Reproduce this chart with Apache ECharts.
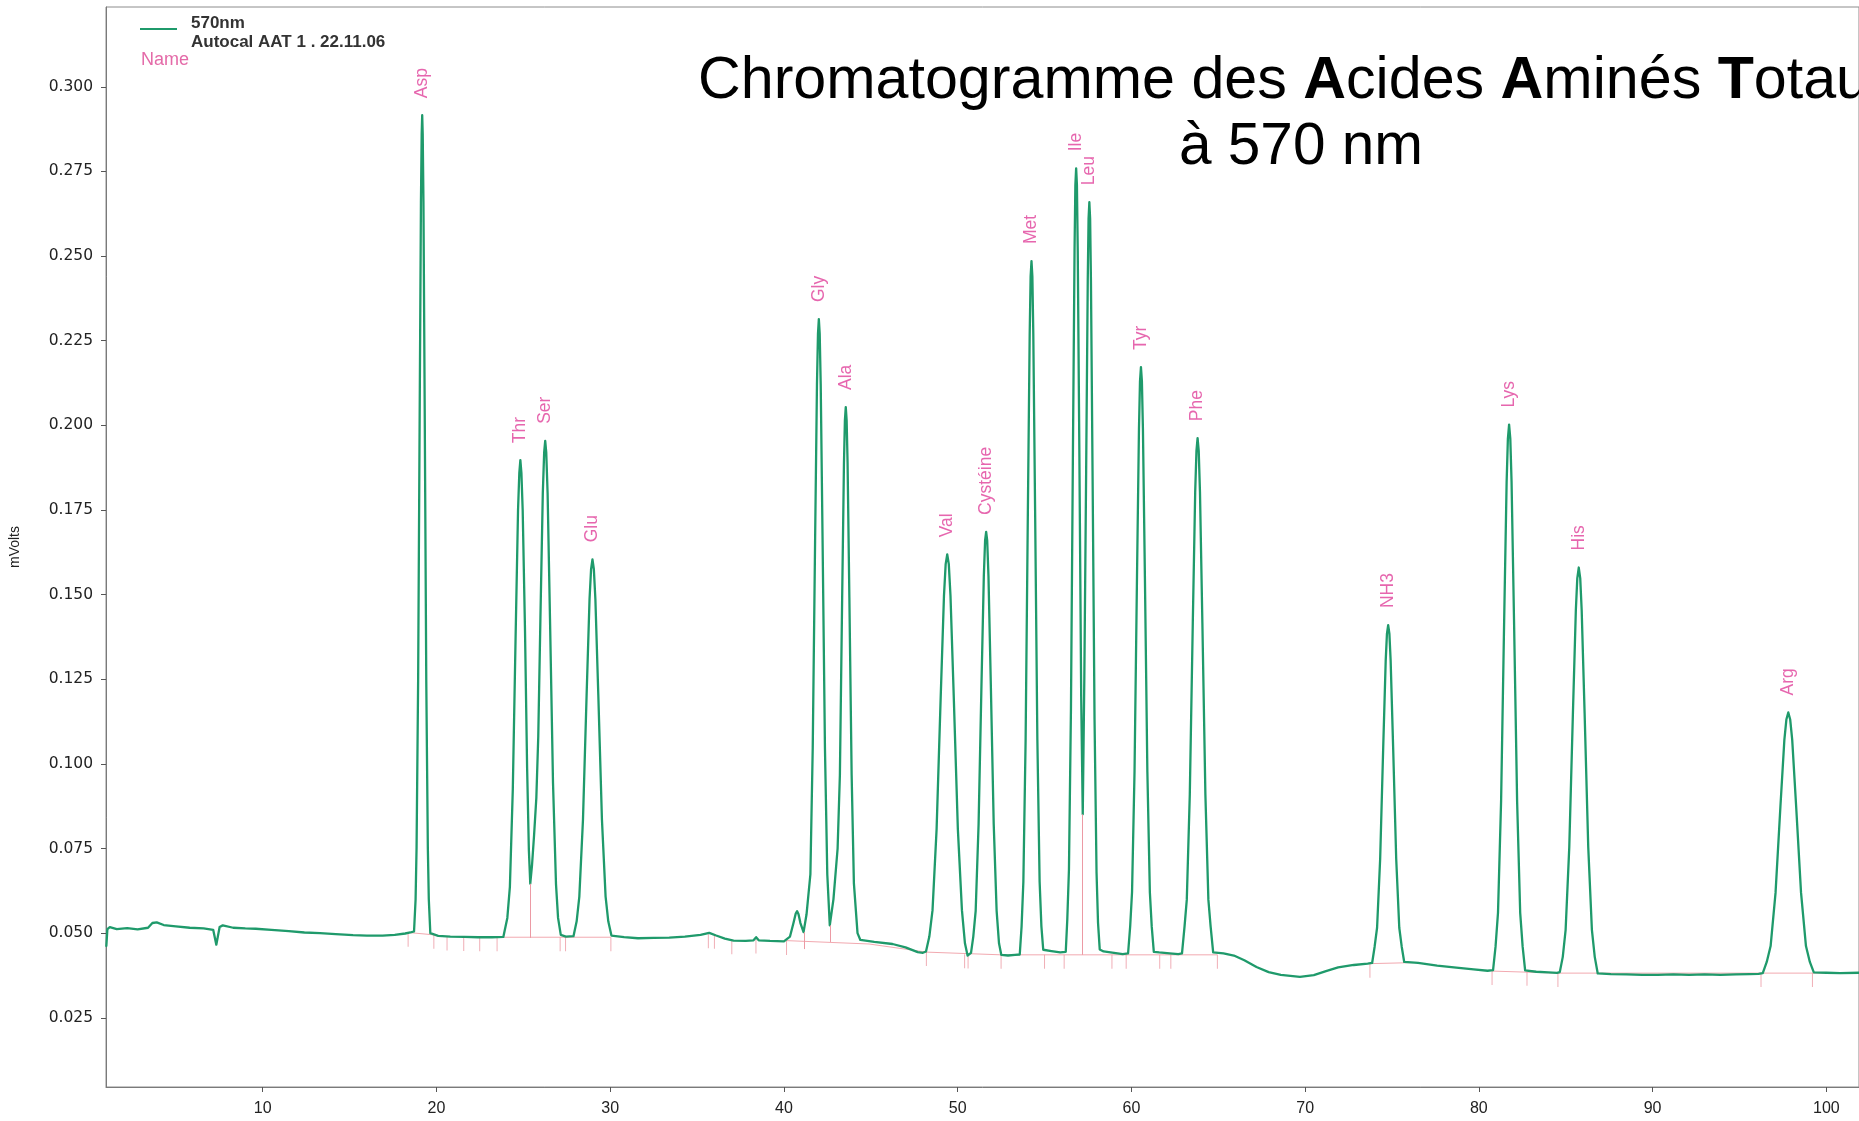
<!DOCTYPE html>
<html>
<head>
<meta charset="utf-8">
<script src="https://cdn.jsdelivr.net/npm/echarts@6/dist/echarts.min.js"></script>
<style>
html,body{margin:0;padding:0;background:#fff;}
#chart{width:1859px;height:1121px;}
</style>
</head>
<body>
<div id="chart"></div>
<script>
// ---- Data (time in min, signal in mVolts) ----
const tracePoints = [
  [1.00,0.0462],[1.06,0.0512],[1.2,0.0518],[1.6,0.0512],[2.2,0.0515],[2.8,0.0511],[3.4,0.0516],[3.65,0.0530],[3.9,0.0532],[4.3,0.0524],
  [5.0,0.0520],[5.8,0.0516],[6.6,0.0514],[7.15,0.0510],[7.33,0.0466],[7.52,0.0518],[7.7,0.0523],[8.3,0.0516],[9.0,0.0514],[9.6,0.0513],
  [10.5,0.0510],[11.5,0.0506],[12.4,0.0502],[13.3,0.0500],[14.2,0.0497],[15.2,0.0494],[16.0,0.0493],[16.9,0.0493],[17.6,0.0495],[18.2,0.0499],[18.5,0.0502],
  // Asp
  [18.71,0.0505],[18.80,0.0600],[18.856,0.0753],[18.946,0.1247],[19.036,0.2049],[19.108,0.2662],[19.15,0.2860],[19.18,0.2916],[19.21,0.2860],[19.252,0.2662],[19.324,0.2049],[19.414,0.1247],[19.504,0.0753],[19.56,0.0600],[19.648,0.0500],
  [20.1,0.0492],[20.8,0.0490],[21.6,0.0489],[22.4,0.0488],[23.2,0.0488],[23.85,0.0489],
  // Thr
  [24.08,0.0545],[24.227,0.0637],[24.395,0.0925],[24.562,0.1392],[24.696,0.1749],[24.77,0.1860],[24.83,0.1897],[24.89,0.1860],[24.964,0.1749],[25.098,0.1392],[25.22,0.0985],[25.32,0.0745],[25.40,0.0646],
  // Ser
  [25.50,0.0700],[25.62,0.0790],[25.75,0.0900],[25.86,0.1080],[25.984,0.1429],[26.122,0.1800],[26.20,0.1920],[26.26,0.1954],[26.32,0.1920],[26.398,0.1800],[26.536,0.1429],[26.709,0.0944],[26.881,0.0645],[27.00,0.0545],[27.157,0.0495],[27.45,0.0490],
  // Glu
  [27.888,0.0491],[28.07,0.0535],[28.224,0.0608],[28.434,0.0835],[28.644,0.1205],[28.812,0.1487],[28.90,0.1575],[28.98,0.1604],[29.06,0.1575],[29.148,0.1487],[29.316,0.1205],[29.526,0.0835],[29.736,0.0608],[29.89,0.0535],[30.072,0.0493],
  [30.8,0.0488],[31.6,0.0485],[32.5,0.0486],[33.4,0.0487],[34.3,0.0490],[35.2,0.0495],[35.7,0.0501],[36.1,0.0493],[36.6,0.0484],[37.1,0.0478],[37.8,0.0477],[38.25,0.0479],[38.4,0.0488],[38.55,0.0479],[39.2,0.0477],[40.0,0.0476],
  // small unnamed peak
  [40.35,0.0490],[40.55,0.0530],[40.68,0.0558],[40.76,0.0565],[40.84,0.0556],[40.95,0.0530],[41.13,0.0503],
  // Gly
  [41.30,0.0555],[41.524,0.0674],[41.659,0.1049],[41.794,0.1657],[41.902,0.2121],[41.96,0.2270],[42.01,0.2314],[42.06,0.2270],[42.118,0.2121],[42.226,0.1657],[42.361,0.1049],[42.496,0.0674],[42.64,0.0523],
  // Ala
  [42.85,0.0600],[43.09,0.0750],[43.222,0.0968],[43.352,0.1490],[43.456,0.1889],[43.51,0.2015],[43.56,0.2054],[43.61,0.2015],[43.664,0.1889],[43.768,0.1490],[43.898,0.0968],[44.028,0.0647],[44.236,0.0500],[44.40,0.0480],
  [45.2,0.0474],[46.25,0.0468],[47.0,0.0458],[47.7,0.0444],[48.0,0.0442],
  // Val
  [48.178,0.0446],[48.37,0.0490],[48.554,0.0568],[48.789,0.0808],[49.024,0.1198],[49.212,0.1496],[49.31,0.1590],[49.40,0.1619],[49.49,0.1590],[49.588,0.1496],[49.776,0.1198],[50.011,0.0808],[50.246,0.0568],[50.42,0.0470],[50.57,0.0434],
  // Cysteine
  [50.769,0.0442],[50.90,0.0490],[51.037,0.0566],[51.205,0.0822],[51.372,0.1237],[51.506,0.1554],[51.58,0.1660],[51.64,0.1685],[51.70,0.1660],[51.774,0.1554],[51.908,0.1237],[52.076,0.0822],[52.243,0.0566],[52.38,0.0470],[52.511,0.0436],
  [52.9,0.0434],[53.3,0.0436],
  // Met
  [53.574,0.0437],[53.68,0.0520],[53.782,0.0652],[53.912,0.1071],[54.042,0.1750],[54.146,0.2270],[54.20,0.2440],[54.25,0.2485],[54.30,0.2440],[54.354,0.2270],[54.458,0.1750],[54.588,0.1071],[54.718,0.0652],[54.82,0.0520],[54.926,0.0451],
  [55.4,0.0447],[55.9,0.0443],
  // Ile
  [56.222,0.0445],[56.31,0.0540],[56.406,0.0688],[56.521,0.1161],[56.636,0.1929],[56.728,0.2516],[56.775,0.2710],[56.82,0.2759],[56.865,0.2710],[56.912,0.2516],[57.004,0.1929],[57.11,0.1200],[57.20,0.0851],
  // Leu
  [57.29,0.1250],[57.396,0.1866],[57.488,0.2427],[57.535,0.2610],[57.58,0.2659],[57.625,0.2610],[57.672,0.2427],[57.764,0.1866],[57.879,0.1131],[57.994,0.0679],[58.08,0.0530],[58.178,0.0452],
  [58.4,0.0446],[59.0,0.0442],[59.5,0.0438],
  // Tyr
  [59.809,0.0440],[59.93,0.0520],[60.037,0.0621],[60.18,0.0976],[60.322,0.1551],[60.436,0.1990],[60.495,0.2130],[60.55,0.2172],[60.605,0.2130],[60.664,0.1990],[60.778,0.1551],[60.92,0.0976],[61.063,0.0621],[61.17,0.0520],[61.291,0.0445],
  [61.6,0.0443],[62.2,0.0440],[62.7,0.0438],
  // Phe
  [62.913,0.0440],[63.06,0.0520],[63.189,0.0599],[63.362,0.0910],[63.534,0.1416],[63.672,0.1802],[63.745,0.1925],[63.81,0.1962],[63.875,0.1925],[63.948,0.1802],[64.086,0.1416],[64.259,0.0910],[64.431,0.0599],[64.56,0.0520],[64.707,0.0443],
  [65.3,0.0440],[65.9,0.0434],[66.5,0.0420],[67.2,0.0400],[67.9,0.0385],[68.6,0.0377],[69.7,0.0371],[70.5,0.0376],[71.2,0.0388],[71.9,0.0399],[72.8,0.0406],[73.6,0.0410],
  // NH3
  [73.857,0.0412],[74.00,0.0460],[74.141,0.0516],[74.319,0.0720],[74.496,0.1052],[74.638,0.1305],[74.71,0.1385],[74.78,0.1410],[74.85,0.1385],[74.922,0.1305],[75.064,0.1052],[75.242,0.0720],[75.419,0.0516],[75.56,0.0460],[75.703,0.0415],
  [76.5,0.0412],[77.6,0.0404],[78.7,0.0398],[79.7,0.0393],[80.5,0.0389],
  // Lys
  [80.817,0.0391],[80.96,0.0460],[81.101,0.0560],[81.279,0.0889],[81.456,0.1424],[81.598,0.1833],[81.67,0.1960],[81.74,0.2002],[81.81,0.1960],[81.882,0.1833],[82.024,0.1424],[82.202,0.0889],[82.379,0.0560],[82.52,0.0460],[82.663,0.0390],
  [83.3,0.0386],[84.0,0.0384],[84.5,0.0383],
  // His
  [84.658,0.0385],[84.83,0.0430],[84.994,0.0510],[85.204,0.0754],[85.414,0.1151],[85.582,0.1454],[85.665,0.1548],[85.75,0.1580],[85.835,0.1548],[85.918,0.1454],[86.086,0.1151],[86.296,0.0754],[86.506,0.0510],[86.67,0.0430],[86.842,0.0381],
  [87.6,0.0379],[88.5,0.0378],[89.4,0.0377],[90.3,0.0377],[91.2,0.0378],[92.1,0.0377],[93.0,0.0378],[93.9,0.0377],[94.8,0.0378],[95.6,0.0379],[96.1,0.0380],
  // Arg
  [96.341,0.0382],[96.57,0.0415],[96.793,0.0462],[97.076,0.0619],[97.358,0.0875],[97.584,0.1071],[97.70,0.1131],[97.81,0.1152],[97.92,0.1131],[98.036,0.1071],[98.262,0.0875],[98.545,0.0619],[98.827,0.0462],[99.05,0.0415],[99.279,0.0384],
  [100.0,0.0383],[100.8,0.0382],[101.88,0.0383]
];

const peakNames   = ['Asp','Thr','Ser','Glu','Gly','Ala','Val','Cystéine','Met','Ile','Leu','Tyr','Phe','NH3','Lys','His','Arg'];
const peakTimes   = [19.18,24.83,26.26,28.98,42.01,43.56,49.40,51.64,54.25,56.82,57.58,60.55,63.81,74.78,81.74,85.75,97.81];
const peakHeights = [0.2916,0.1897,0.1954,0.1604,0.2314,0.2054,0.1619,0.1685,0.2485,0.2759,0.2659,0.2172,0.1962,0.1410,0.2002,0.1580,0.1152];

// integration baseline segments
const integrationBaselines = [
  [[18.37,0.0502],[19.85,0.0495]],
  [[23.49,0.0488],[30.04,0.0488]],
  [[40.15,0.0478],[44.9,0.0468],[48.2,0.0444],[52.5,0.0436],[64.95,0.0436]],
  [[73.73,0.0410],[76.2,0.0413]],
  [[80.76,0.0388],[84.55,0.0382],[101.88,0.0382]]
];

// peak start / end markers
const markerTimes  = [18.37,19.85,20.61,21.57,22.49,23.49,27.12,27.43,30.04,35.65,36.0,37.0,38.39,40.15,48.2,50.4,50.6,52.5,55.0,56.13,58.88,59.7,61.63,62.27,64.95,73.73,80.76,82.77,84.55,96.24,99.2];
const markerLevels = [0.0501,0.0495,0.0490,0.0489,0.0488,0.0488,0.0488,0.0488,0.0488,0.0497,0.0495,0.0479,0.0481,0.0477,0.0444,0.0438,0.0437,0.0436,0.0436,0.0436,0.0436,0.0436,0.0436,0.0436,0.0436,0.0410,0.0388,0.0386,0.0382,0.0382,0.0382];

// valley drop lines
const dropTimes   = [25.42,41.17,42.64,57.19];
const dropTops    = [0.0646,0.0503,0.0523,0.0851];
const dropBottoms = [0.0486,0.0453,0.0474,0.0436];

const xTicks = [10,20,30,40,50,60,70,80,90,100];
const yTicks = [0.025,0.05,0.075,0.1,0.125,0.15,0.175,0.2,0.225,0.25,0.275,0.3];

// ---- Chart ----
const GREEN = '#1f9a6b';
const PINK = '#e0409a';
const chart = echarts.init(document.getElementById('chart'), null, {renderer: 'canvas'});

const series = [];
integrationBaselines.forEach(function (seg) {
  series.push({
    type: 'line', data: seg, symbol: 'none', silent: true, z: 1,
    lineStyle: {color: '#f2a9b0', width: 1}
  });
});
series.push({
  type: 'scatter', silent: true, z: 1,
  data: markerTimes.map(function (t, i) { return [t, markerLevels[i]]; }),
  symbol: 'rect', symbolSize: [1, 14], symbolOffset: [0, 7],
  itemStyle: {color: '#ec9aa4'},
  markLine: {
    silent: true, symbol: 'none', animation: false,
    label: {show: false},
    lineStyle: {color: '#ec9aa4', width: 1, type: 'solid'},
    data: dropTimes.map(function (t, i) {
      return [{coord: [t, dropTops[i]]}, {coord: [t, dropBottoms[i]]}];
    })
  }
});
series.push({
  name: '570nm', type: 'line', data: tracePoints, symbol: 'none', showSymbol: false,
  smooth: false, z: 3,
  lineStyle: {color: GREEN, width: 2.3, join: 'round', cap: 'round'}
});
series.push({
  type: 'scatter', silent: true, z: 4,
  data: peakTimes.map(function (t, i) { return {value: [t, peakHeights[i]], name: peakNames[i]}; }),
  symbolSize: 0.1, itemStyle: {color: 'rgba(0,0,0,0)'},
  label: {
    show: true, formatter: '{b}', position: 'top', distance: 17, rotate: 90,
    align: 'left', verticalAlign: 'middle',
    color: PINK, fontSize: 17.5, fontFamily: 'Liberation Sans'
  }
});

const option = {
  animation: false,
  backgroundColor: '#ffffff',
  grid: {left: 105, top: 7, right: -2, bottom: 34, show: true, borderColor: '#8c8c8c', borderWidth: 1},
  xAxis: {
    type: 'value', min: 0.98, max: 101.88,
    axisLine: {show: true, lineStyle: {color: '#7a7a7a', width: 1}},
    axisTick: {show: true, customValues: xTicks, length: 5, lineStyle: {color: '#555'}},
    axisLabel: {customValues: xTicks, fontSize: 16, fontFamily: 'Liberation Sans', color: '#222', margin: 14},
    splitLine: {show: false}
  },
  yAxis: {
    type: 'value', min: 0.00456, max: 0.32357,
    name: 'mVolts', nameLocation: 'middle', nameGap: 84, nameRotate: 90,
    nameTextStyle: {fontSize: 14, fontFamily: 'Liberation Sans', color: '#222'},
    axisLine: {show: true, lineStyle: {color: '#7a7a7a', width: 1}},
    axisTick: {show: true, customValues: yTicks, length: 5, lineStyle: {color: '#555'}},
    axisLabel: {
      customValues: yTicks, fontSize: 15.5, fontFamily: 'DejaVu Sans', color: '#222', margin: 13,
      formatter: function (v) { return v.toFixed(3); }
    },
    splitLine: {show: false}
  },
  graphic: [
    {type: 'line', shape: {x1: 140, y1: 29, x2: 177, y2: 29}, style: {stroke: GREEN, lineWidth: 2}},
    {type: 'text', x: 191, y: 23, style: {text: '570nm', fontSize: 17, fontWeight: 'bold', fontFamily: 'Liberation Sans', fill: '#333', verticalAlign: 'middle', align: 'left'}},
    {type: 'text', x: 191, y: 42.5, style: {text: 'Autocal AAT 1 . 22.11.06', fontSize: 17, fontWeight: 'bold', fontFamily: 'Liberation Sans', fill: '#333', verticalAlign: 'middle', align: 'left'}},
    {type: 'text', x: 141, y: 60.5, style: {text: 'Name', fontSize: 18, fontFamily: 'Liberation Sans', fill: '#e46aa8', verticalAlign: 'middle', align: 'left'}},
    {type: 'text', x: 698, y: 82, style: {
      text: '{n|Chromatogramme des }{b|A}{n|cides }{b|A}{n|minés }{b|T}{n|otaux}',
      verticalAlign: 'middle', align: 'left',
      rich: {
        n: {fontSize: 59.2, fontFamily: 'Liberation Sans', fill: '#000', color: '#000'},
        b: {fontSize: 59.2, fontFamily: 'Liberation Sans', fontWeight: 'bold', fill: '#000', color: '#000'}
      }
    }},
    {type: 'text', x: 1301, y: 148, style: {text: 'à 570 nm', fontSize: 58.5, fontFamily: 'Liberation Sans', fill: '#000', verticalAlign: 'middle', align: 'center'}}
  ],
  series: series
};
chart.setOption(option);
</script>
</body>
</html>
